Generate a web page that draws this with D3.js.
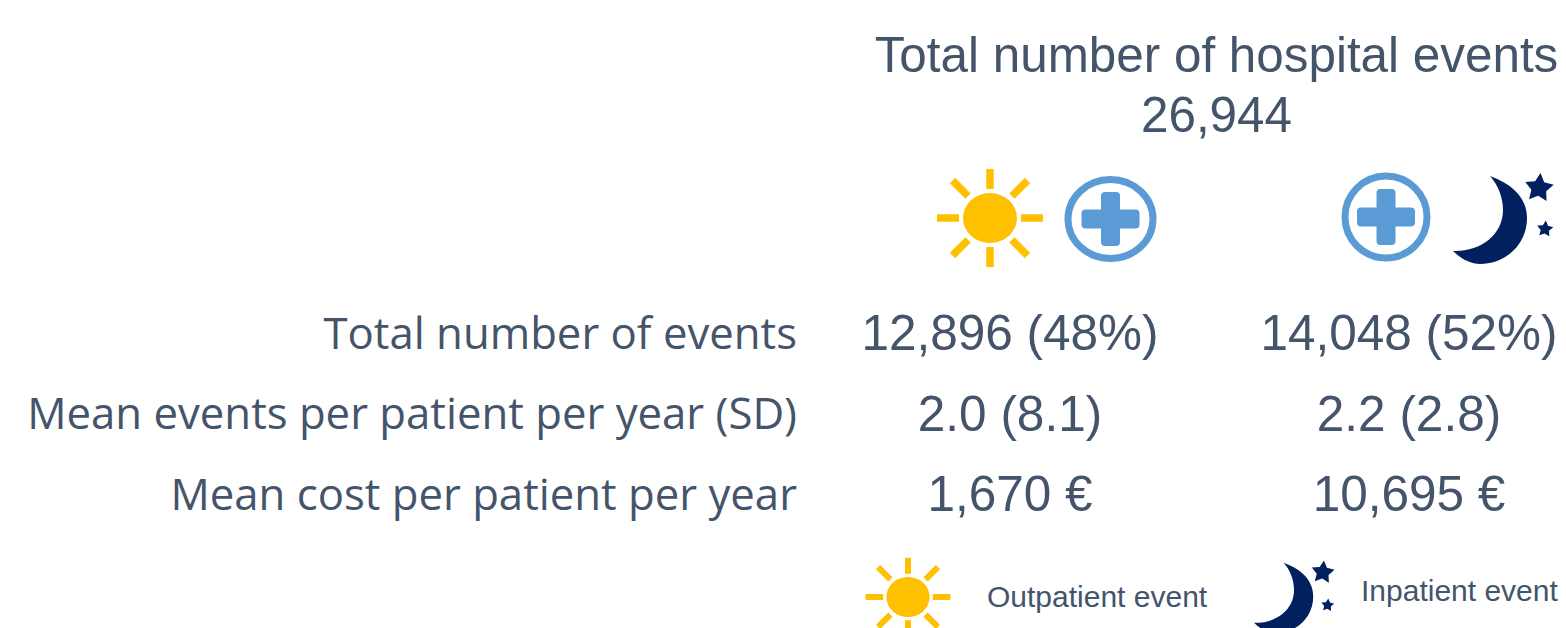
<!DOCTYPE html>
<html>
<head>
<meta charset="utf-8">
<script src="https://cdn.jsdelivr.net/npm/d3@7"></script>
<style>
  html, body { margin: 0; background: #fff; }
  svg { display: block; }
</style>
</head>
<body>
<svg id="chart"></svg>
<script>
// Table of hospital events, outpatient vs inpatient.

const W = 1566, H = 628;
const INK = "#44546a", AMBER = "#ffc000", BLUE = "#5b9bd5", NAVY = "#002060";

const titleLines = ["Total number of hospital events", "26,944"];
const rowLabels = ["Total number of events", "Mean events per patient per year (SD)", "Mean cost per patient per year"];
const columns = ["Outpatient", "Inpatient"];
const outpatientValues = ["12,896 (48%)", "2.0 (8.1)", "1,670 €"];
const inpatientValues = ["14,048 (52%)", "2.2 (2.8)", "10,695 €"];
const legendLabels = ["Outpatient event", "Inpatient event"];

const svg = d3.select("#chart").attr("width", W).attr("height", H);

const VALUE_FONT = "'Liberation Sans',Arial,sans-serif";
const LABEL_FONT = "'Open Sans','Noto Sans',sans-serif";

const colX = d3.scalePoint().domain(columns).range([1010, 1409]);
const rowY = d3.scalePoint().domain(rowLabels).range([337, 498]);

// ---- text
svg.append("g").selectAll("text").data(titleLines).enter().append("text")
  .attr("x", 1216.5).attr("y", (d, i) => 59 + i * 60)
  .attr("text-anchor", "middle").attr("dominant-baseline", "middle")
  .style("font", `49.4px ${VALUE_FONT}`).style("fill", INK)
  .text((d) => d);

svg.append("g").selectAll("text").data(rowLabels).enter().append("text")
  .attr("x", 797).attr("y", (d) => rowY(d))
  .attr("text-anchor", "end").attr("dominant-baseline", "middle")
  .style("font", `43.7px ${LABEL_FONT}`).style("fill", INK)
  .text((d) => d);

[outpatientValues, inpatientValues].forEach((vals, c) => {
  svg.append("g").selectAll("text").data(vals).enter().append("text")
    .attr("x", colX(columns[c])).attr("y", (d, i) => rowY(rowLabels[i]))
    .attr("text-anchor", "middle").attr("dominant-baseline", "middle")
    .style("font", `49.5px ${VALUE_FONT}`).style("fill", INK)
    .text((d) => d);
});

svg.append("text").attr("x", 987).attr("y", 599)
  .attr("dominant-baseline", "middle")
  .style("font", `30px ${VALUE_FONT}`).style("fill", INK).text(legendLabels[0]);
svg.append("text").attr("x", 1361).attr("y", 593)
  .attr("dominant-baseline", "middle")
  .style("font", `30px ${VALUE_FONT}`).style("fill", INK).text(legendLabels[1]);

// ---- icons
function drawSun(cx, cy, k) {
  const g = svg.append("g").attr("transform", `translate(${cx},${cy}) scale(${k})`);
  g.append("ellipse").attr("rx", 27).attr("ry", 25).attr("fill", AMBER);
  d3.range(8).forEach((i) => {
    const a = i * Math.PI / 4;
    // rays are a bit shorter up and down, the icon is squashed
    const r0 = i % 2 ? 31 : (i % 4 === 0 ? 31 : 29);
    const r1 = i % 2 ? 53 : (i % 4 === 0 ? 53 : 49);
    g.append("line")
      .attr("x1", Math.cos(a) * r0).attr("y1", Math.sin(a) * r0)
      .attr("x2", Math.cos(a) * r1).attr("y2", Math.sin(a) * r1)
      .attr("stroke", AMBER).attr("stroke-width", 7.5);
  });
}

function drawPlus(cx, cy, rx, ry, armX, armY) {
  const g = svg.append("g").attr("transform", `translate(${cx},${cy})`);
  g.append("ellipse").attr("rx", rx).attr("ry", ry).attr("fill", "#fff")
    .attr("stroke", BLUE).attr("stroke-width", 7);
  g.append("rect").attr("x", -armX).attr("y", -9.5).attr("width", armX * 2).attr("height", 19)
    .attr("rx", 4).attr("fill", BLUE);
  g.append("rect").attr("x", -9.5).attr("y", -armY).attr("width", 19).attr("height", armY * 2)
    .attr("rx", 4).attr("fill", BLUE);
}

function star(cx, cy, r) {
  const pts = d3.range(10).map((i) => {
    const a = -Math.PI / 2 + 0.1 + i * Math.PI / 5;
    const rr = i % 2 ? r * 0.52 : r;
    return [cx + Math.cos(a) * rr, cy + Math.sin(a) * rr];
  });
  return "M" + pts.join("L") + "Z";
}

// moon path is drawn at the size of the big icon, legend copy is scaled down
function drawMoon(transform) {
  const g = svg.append("g").attr("transform", transform).attr("fill", NAVY);
  g.append("path").attr("d",
    "M1490,176C1515,185 1527,200 1527,218C1527,245 1505,264 1480,264" +
    "C1470,264 1460,258 1453,251C1480,252 1503,235 1503,210C1503,197 1498,185 1490,176Z");
  g.append("path").attr("d", star(1539, 188, 15));
  g.append("path").attr("d", star(1545, 229, 8.5));
}

drawSun(990, 218, 1);
drawPlus(1110.5, 219, 42.5, 39.5, 29, 27);
drawPlus(1386, 217, 41, 41, 29, 28);
drawMoon("");
drawSun(908, 597, 0.8);
drawMoon("translate(91.6,422) scale(0.8)");
</script>
</body>
</html>
